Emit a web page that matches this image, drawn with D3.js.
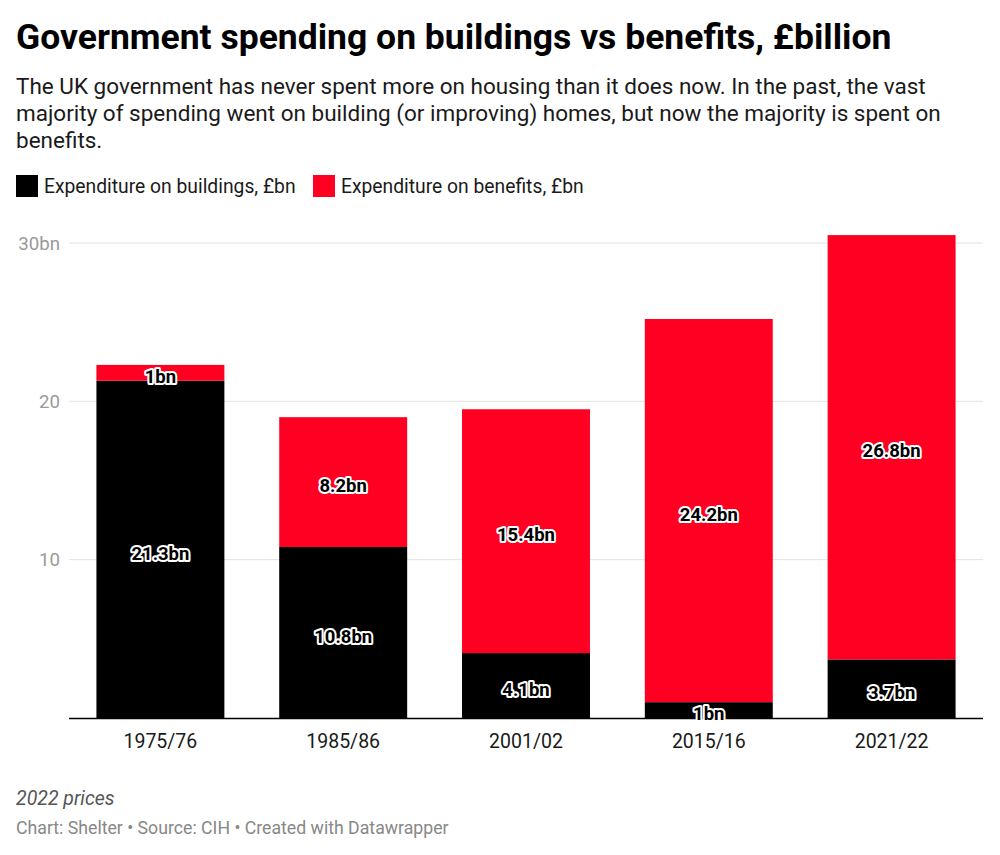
<!DOCTYPE html>
<html>
<head>
<meta charset="utf-8">
<script src="https://cdn.jsdelivr.net/npm/d3@7"></script>
<style>
  html, body { margin: 0; padding: 0; background: #fff; }
  body { width: 1000px; height: 855px; overflow: hidden; font-family: Roboto, "Noto Sans", sans-serif; }
</style>
</head>
<body>
<svg id="chart" width="1000" height="855"></svg>
<script>
const categories = ["1975/76", "1985/86", "2001/02", "2015/16", "2021/22"];
const buildings = [21.3, 10.8, 4.1, 1, 3.7];
const benefits = [1, 8.2, 15.4, 24.2, 26.8];
const seriesNames = ["Expenditure on buildings, £bn", "Expenditure on benefits, £bn"];
const seriesColors = ["#000000", "#ff0022"];
const yTicks = [10, 20, 30];
const yTickLabels = ["10", "20", "30bn"];

const svg = d3.select("#chart");
const font = "Roboto, 'Noto Sans', sans-serif";

// Title & subtitle
svg.append("text").attr("x", 16).attr("y", 49)
  .attr("font-family", font).attr("font-weight", 700).attr("font-size", 35.5)
  .attr("fill", "#000").text("Government spending on buildings vs benefits, £billion");

const subLines = [
  "The UK government has never spent more on housing than it does now. In the past, the vast",
  "majority of spending went on building (or improving) homes, but now the majority is spent on",
  "benefits."
];
subLines.forEach((l, i) => {
  svg.append("text").attr("x", 16).attr("y", 94 + i * 27)
    .attr("font-family", font).attr("font-size", 22.5).attr("fill", "#1a1a1a").text(l);
});

// Legend
const legend = svg.append("g");
const legendX = [16, 313];
seriesNames.forEach((n, i) => {
  legend.append("rect").attr("x", legendX[i]).attr("y", 175).attr("width", 22).attr("height", 22)
    .attr("fill", seriesColors[i]);
  legend.append("text").attr("x", legendX[i] + 28).attr("y", 193)
    .attr("font-family", font).attr("font-size", 19.3).attr("fill", "#1a1a1a").text(n);
});

// Scales
const plotLeft = 69, plotRight = 983, plotTop = 243, plotBottom = 718;
const x = d3.scaleBand().domain(categories).range([plotLeft, plotRight]).paddingInner(0.3).paddingOuter(0.15);
const y = d3.scaleLinear().domain([0, 30]).range([plotBottom, plotTop]);

// Grid
const grid = svg.append("g");
yTicks.forEach((t, i) => {
  grid.append("line").attr("x1", plotLeft).attr("x2", plotRight).attr("y1", y(t)).attr("y2", y(t))
    .attr("stroke", "#e2e2e2").attr("stroke-width", 1);
  grid.append("text").attr("x", 60).attr("y", y(t)).attr("dy", "0.35em")
    .attr("text-anchor", "end").attr("font-family", font).attr("font-size", 18.7)
    .attr("fill", "#9a9a9a").text(yTickLabels[i]);
});

// Stacked data
const data = categories.map((c, i) => ({ cat: c, buildings: buildings[i], benefits: benefits[i] }));
const stack = d3.stack().keys(["buildings", "benefits"])(data);

const bars = svg.append("g");
stack.forEach((layer, li) => {
  bars.selectAll(null).data(layer).enter().append("rect")
    .attr("x", d => x(d.data.cat))
    .attr("width", x.bandwidth())
    .attr("y", d => y(d[1]))
    .attr("height", d => y(d[0]) - y(d[1]))
    .attr("fill", seriesColors[li]);
});

// Baseline axis
svg.append("line").attr("x1", plotLeft).attr("x2", plotRight).attr("y1", plotBottom + 0.5).attr("y2", plotBottom + 0.5)
  .attr("stroke", "#000").attr("stroke-width", 1.5);

// Value labels
const fmt = v => d3.format(".1~f")(v) + "bn";
const labels = svg.append("g");
stack.forEach(layer => {
  layer.forEach(d => {
    const cx = x(d.data.cat) + x.bandwidth() / 2;
    const cy = (y(d[0]) + y(d[1])) / 2;
    const val = d[1] - d[0];
    const t = fmt(Math.round(val * 10) / 10);
    labels.append("text").attr("x", cx).attr("y", cy).attr("dy", "0.55em")
      .attr("text-anchor", "middle").attr("font-family", font).attr("font-weight", 700)
      .attr("font-size", 18.5).attr("fill", "#fff").attr("stroke", "#fff")
      .attr("stroke-width", 4).attr("stroke-linejoin", "round").text(t);
    labels.append("text").attr("x", cx).attr("y", cy).attr("dy", "0.55em")
      .attr("text-anchor", "middle").attr("font-family", font).attr("font-weight", 700)
      .attr("font-size", 18.5).attr("fill", "#000").text(t);
  });
});

// X labels
categories.forEach(c => {
  svg.append("text").attr("x", x(c) + x.bandwidth() / 2).attr("y", 748)
    .attr("text-anchor", "middle").attr("font-family", font).attr("font-size", 19.5)
    .attr("fill", "#1a1a1a").text(c);
});

// Footer
svg.append("text").attr("x", 16).attr("y", 805).attr("font-family", font).attr("font-style", "italic")
  .attr("font-size", 19.5).attr("fill", "#555").text("2022 prices");
svg.append("text").attr("x", 16).attr("y", 834).attr("font-family", font)
  .attr("font-size", 17.7).attr("fill", "#888").text("Chart: Shelter • Source: CIH • Created with Datawrapper");
</script>
</body>
</html>
